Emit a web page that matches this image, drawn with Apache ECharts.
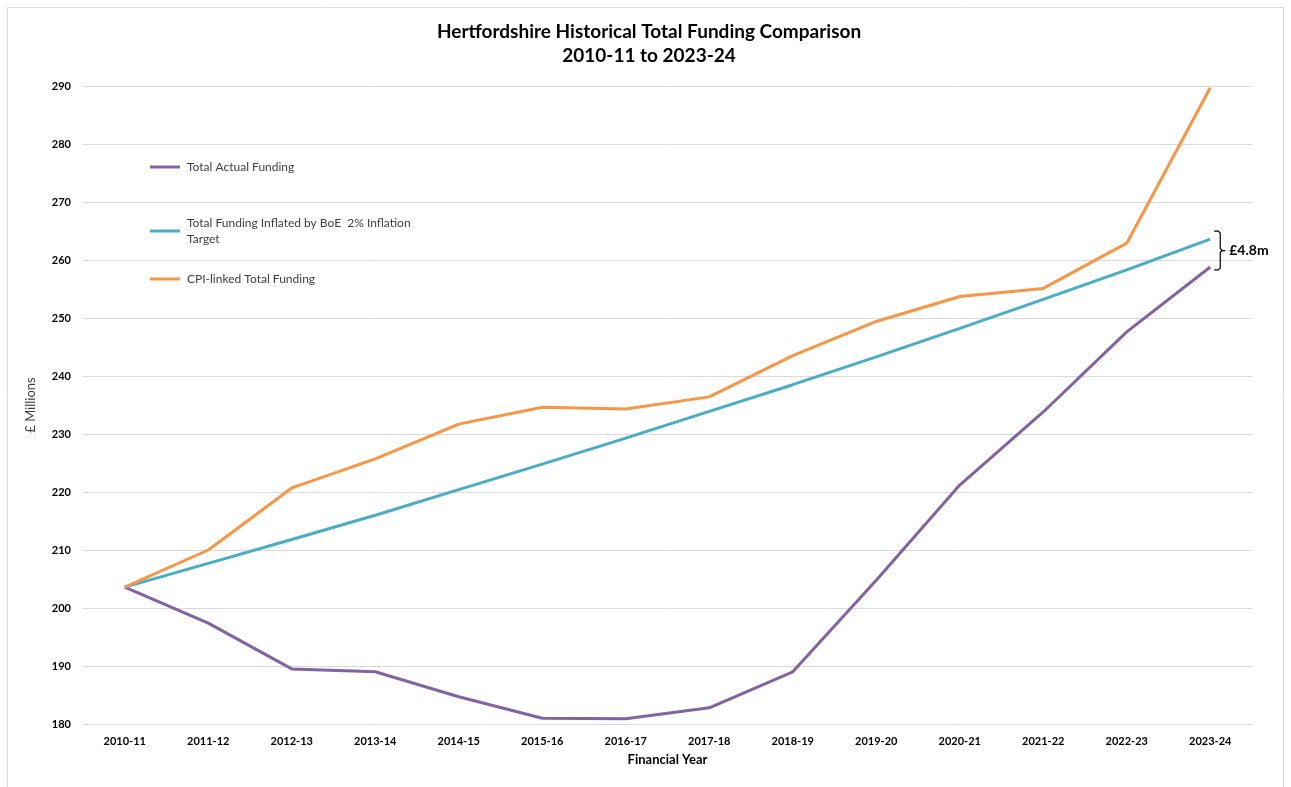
<!DOCTYPE html>
<html>
<head>
<meta charset="utf-8">
<script src="https://cdn.jsdelivr.net/npm/echarts@6/dist/echarts.min.js"></script>
<style>
html,body{margin:0;padding:0;background:#fff;}
#chart{width:1291px;height:787px;}
</style>
</head>
<body>
<div id="chart"></div>
<script>
// Financial years on the x axis
const years = ['2010-11','2011-12','2012-13','2013-14','2014-15','2015-16','2016-17',
  '2017-18','2018-19','2019-20','2020-21','2021-22','2022-23','2023-24'];

// Funding in £ millions
const actualFunding = [203.6, 197.4, 189.5, 189.0, 184.7, 181.0, 180.9,
  182.8, 189.0, 204.8, 221.2, 233.8, 247.6, 258.8];
const boeInflated = [203.6, 207.7, 211.8, 216.0, 220.4, 224.8, 229.3,
  233.9, 238.5, 243.3, 248.2, 253.2, 258.3, 263.6];
const cpiLinked = [203.6, 210.0, 220.7, 225.7, 231.7, 234.6, 234.3,
  236.4, 243.5, 249.4, 253.7, 255.1, 262.9, 289.7];

const seriesNames = ['Total Actual Funding',
  'Total Funding Inflated by BoE  2% Inflation\nTarget',
  'CPI-linked Total Funding'];
const seriesColors = ['#8064A2', '#4BACC6', '#F79646'];

// Y axis ticks
const yMin = 180, yMax = 290, yStep = 10;

// Gap annotation in the final year
const gapLabel = '£4.8m';

const FONT = 'Lato, "Open Sans", sans-serif';
const chart = echarts.init(document.getElementById('chart'));

function legendFor(i, top) {
  return {
    data: [seriesNames[i]],
    left: 145, top: top,
    icon: 'rect', itemWidth: 30, itemHeight: 3,
    itemGap: 4,
    textStyle: { fontFamily: FONT, fontSize: 12, color: '#404040', lineHeight: 16, padding: [0, 0, 0, 2] }
  };
}

function lineSeries(i, data) {
  return {
    name: seriesNames[i], type: 'line', data: data,
    symbol: 'none', smooth: false,
    lineStyle: { width: 3, color: seriesColors[i] },
    itemStyle: { color: seriesColors[i] },
    z: 3 + i
  };
}

chart.setOption({
  animation: false,
  title: {
    text: 'Hertfordshire Historical Total Funding Comparison\n2010-11 to 2023-24',
    left: 644, textAlign: 'center', top: 15,
    textStyle: { fontFamily: FONT, fontSize: 19, fontWeight: 'bold', color: '#000', lineHeight: 24 }
  },
  legend: [legendFor(0, 154), legendFor(1, 210), legendFor(2, 266)],
  grid: { left: 83, right: 39, top: 86, bottom: 63, containLabel: false },
  xAxis: {
    type: 'category', data: years, boundaryGap: true,
    name: 'Financial Year', nameLocation: 'middle', nameGap: 29,
    nameTextStyle: { fontFamily: FONT, fontSize: 13, fontWeight: 'bold', color: '#000' },
    axisLine: { show: false }, axisTick: { show: false },
    axisLabel: { fontFamily: FONT, fontSize: 11, fontWeight: 'bold', color: '#000', margin: 12 }
  },
  yAxis: {
    type: 'value', min: yMin, max: yMax, interval: yStep,
    name: '£ Millions', nameLocation: 'middle', nameGap: 46, nameRotate: 90,
    nameTextStyle: { fontFamily: FONT, fontSize: 13, color: '#404040' },
    axisLine: { show: false }, axisTick: { show: false },
    axisLabel: { fontFamily: FONT, fontSize: 11, fontWeight: 'bold', color: '#000', margin: 12 },
    splitLine: { lineStyle: { color: '#d9d9d9', width: 1 } }
  },
  series: [
    lineSeries(0, actualFunding),
    lineSeries(1, boeInflated),
    lineSeries(2, cpiLinked)
  ]
});

// Bracket marking the gap between the BoE line and actual funding in the last year
const last = years.length - 1;
const pTop = chart.convertToPixel({ gridIndex: 0 }, [last, boeInflated[last]]);
const pBot = chart.convertToPixel({ gridIndex: 0 }, [last, actualFunding[last]]);
const bx = pTop[0] + 4;
const y1 = pTop[1] - 8, y2 = pBot[1] + 3, ym = (y1 + y2) / 2;

chart.setOption({
  graphic: [
    {
      type: 'rect', silent: true, z: -1,
      shape: { x: 7.5, y: 7.5, width: 1276, height: 800 },
      style: { fill: null, stroke: '#d9d9d9', lineWidth: 1 }
    },
    {
      type: 'polyline', silent: true,
      shape: { points: [[bx, y1], [bx + 4, y1], [bx + 6, y1 + 2], [bx + 6, ym - 2], [bx + 8, ym], [bx + 11, ym]] },
      style: { stroke: '#000', lineWidth: 1.2, fill: null }
    },
    {
      type: 'polyline', silent: true,
      shape: { points: [[bx, y2], [bx + 4, y2], [bx + 6, y2 - 2], [bx + 6, ym + 2], [bx + 8, ym]] },
      style: { stroke: '#000', lineWidth: 1.2, fill: null }
    },
    {
      type: 'text', silent: true,
      x: bx + 15, y: ym,
      style: { text: gapLabel, fontFamily: FONT, fontSize: 14, fontWeight: 'bold', fill: '#000', verticalAlign: 'middle' }
    }
  ]
});
</script>
</body>
</html>
